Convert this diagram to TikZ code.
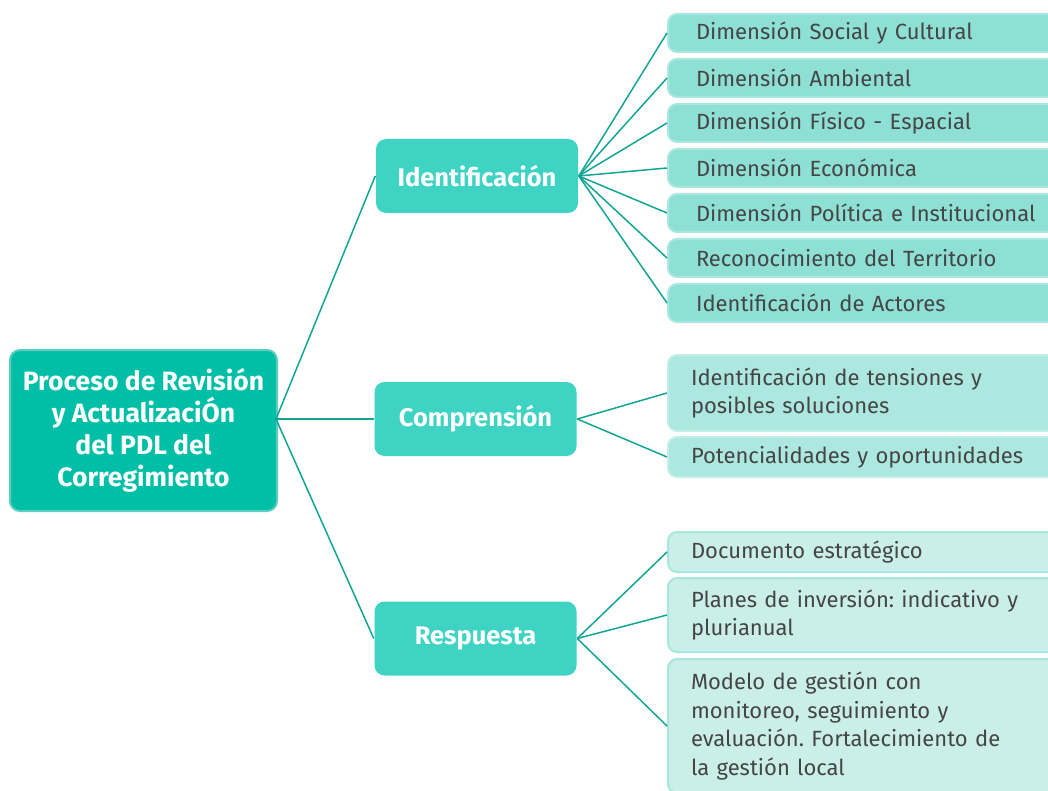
\documentclass[tikz,border=0pt]{standalone}
\usepackage{fontspec}
\setmainfont{Fira Sans}
\usepackage{xcolor}
\usepackage{tikz}
\definecolor{rootfill}{HTML}{00BFA6}
\definecolor{rootline}{HTML}{5ACFC0}
\definecolor{stagefill}{HTML}{3ED3C2}
\definecolor{identfill}{HTML}{8EE0D5}
\definecolor{identline}{HTML}{A9E8DF}
\definecolor{comprfill}{HTML}{ACE8DF}
\definecolor{comprline}{HTML}{C2EFE8}
\definecolor{respfill}{HTML}{C9EFE8}
\definecolor{respline}{HTML}{A9E6DC}
\definecolor{linkteal}{HTML}{12A595}
\definecolor{darktext}{HTML}{454545}
\frenchspacing

\begin{document}
\begin{tikzpicture}[x=1pt,y=-1pt,line width=1.5pt,
    rootbox/.style={draw=rootline,fill=rootfill,rounded corners=10pt,line width=2pt,
      minimum width=267pt,minimum height=161pt,align=center,text=white,
      font=\fontsize{26.5}{32}\selectfont\bfseries},
    stagebox/.style={fill=stagefill,rounded corners=10pt,minimum width=202pt,
      minimum height=74pt,text=white,font=\fontsize{25.5}{30}\selectfont\bfseries},
    leafbox/.style={anchor=west,rounded corners=9pt,line width=2pt,text=darktext,
      text width=380pt,align=left,
      font=\fontsize{22}{28.5}\selectfont},
    identleaf/.style={leafbox,draw=identline,fill=identfill,minimum height=38pt,inner xsep=28pt},
    comprleaf/.style={leafbox,draw=comprline,fill=comprfill,inner xsep=23pt},
    respleaf/.style={leafbox,draw=respline,fill=respfill,inner xsep=23pt}]
        \useasboundingbox (0,0) rectangle (1048,791);
        \clip (0,0) rectangle (1048,791);

        \node[rootbox](R) at (143.5, 430.5) {Proceso de Revisión\\y ActualizaciÓn\\del PDL del\\Corregimiento};
        \coordinate(RJ) at (276, 419);

        \node[stagebox](S1) at (477, 176) {Identificación};
        \node[stagebox](S2) at (475.5, 419) {Comprensión};
        \node[stagebox](S3) at (475.5, 638.5) {Respuesta};

        \node[identleaf](A1) at (667, 33) {Dimensión Social y Cultural};
        \node[identleaf](A2) at (667, 78) {Dimensión Ambiental};
        \node[identleaf](A3) at (667, 123) {Dimensión Físico - Espacial};
        \node[identleaf](A4) at (667, 168) {Dimensión Económica};
        \node[identleaf](A5) at (667, 213) {Dimensión Política e Institucional};
        \node[identleaf](A6) at (667, 258) {Reconocimiento del Territorio};
        \node[identleaf](A7) at (667, 303) {Identificación de Actores};

        \node[comprleaf,minimum height=76pt](B1) at (667, 393) {Identificación de tensiones y\\posibles soluciones};
        \node[comprleaf,minimum height=40pt](B2) at (667, 457) {Potencialidades y oportunidades};

        \node[respleaf,minimum height=40pt](C1) at (667, 552) {Documento estratégico};
        \node[respleaf,minimum height=74pt](C2) at (667, 615) {Planes de inversión: indicativo y\\plurianual};
        \node[respleaf,minimum height=134pt](C3) at (667, 726) {Modelo de gestión con\\monitoreo, seguimiento y\\evaluación. Fortalecimiento de\\la gestión local};

        \draw[linkteal] (RJ) edge (S1.west) (RJ) edge (S2.west) (RJ) edge (S3.west)
                  (S1.east) edge (A1.west) (S1.east) edge (A2.west) (S1.east) edge (A3.west)
                  (S1.east) edge (A4.west) (S1.east) edge (A5.west) (S1.east) edge (A6.west)
                  (S1.east) edge (A7.west)
                  (S2.east) edge (B1.west) (S2.east) edge (B2.west)
                  (S3.east) edge (C1.west) (S3.east) edge (C2.west) (S3.east) edge (C3.west);
      \end{tikzpicture}
\end{document}
